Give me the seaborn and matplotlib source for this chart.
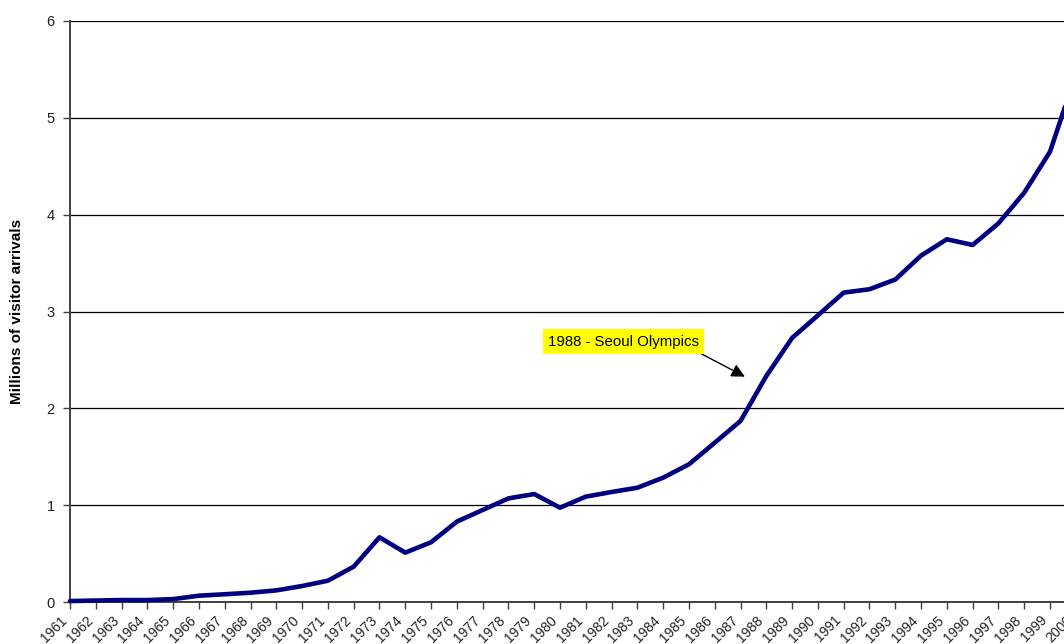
import matplotlib
matplotlib.use("Agg")
import matplotlib.pyplot as plt
import matplotlib.transforms as mtransforms
import seaborn as sns
import pandas as pd

years = list(range(1961, 2001))
arrivals = [0.01, 0.015, 0.02, 0.02, 0.03, 0.065, 0.08, 0.096, 0.12, 0.165,
            0.22, 0.365, 0.668, 0.51, 0.617, 0.83, 0.95, 1.07, 1.115, 0.974,
            1.088, 1.136, 1.18, 1.284, 1.422, 1.645, 1.87, 2.334, 2.727, 2.96,
            3.195, 3.23, 3.33, 3.577, 3.746, 3.687, 3.91, 4.227, 4.65, 5.45]
year_labels = [str(y) for y in years]
y_ticks = [0, 1, 2, 3, 4, 5, 6]
ylabel = "Millions of visitor arrivals"
note_text = "1988 - Seoul Olympics"

df = pd.DataFrame({"year": years, "arrivals": arrivals})

sns.set_theme(style="white")
plt.rcParams['font.family'] = ['Liberation Sans', 'DejaVu Sans']

W, H = 1064, 644
fig = plt.figure(figsize=(W / 100, H / 100), dpi=100)
ax = fig.add_axes([70 / W, (H - 602) / H, (1075.8 - 70) / W, (602 - 21) / H])

ax.set_axisbelow(True)
ax.yaxis.grid(True, color="black", lw=0.9)
ax.xaxis.grid(False)

sns.lineplot(data=df, x="year", y="arrivals", ax=ax, color="#000080",
             linewidth=3.3, clip_on=False, zorder=3)

for s in ["top", "right"]:
    ax.spines[s].set_visible(False)
for s in ["left", "bottom"]:
    ax.spines[s].set_color("#404040")
    ax.spines[s].set_linewidth(1.4)

ax.tick_params(axis="both", which="major", direction="out", length=5,
               width=1, color="#404040", left=True, bottom=True)
ax.tick_params(axis="x", pad=3)
ax.tick_params(axis="y", pad=6)

ax.set_xlim(1961, 2000)
ax.set_ylim(0, 6)
ax.set_yticks(y_ticks)
ax.set_yticklabels([str(v) for v in y_ticks], fontsize=10.5, color="#222222")
ax.set_xticks(years)
ax.set_xticklabels(year_labels, rotation=45, ha="right", va="top",
                   rotation_mode="anchor", fontsize=10, color="#222222")
shift = mtransforms.ScaledTranslation(-10 / 100, 0, fig.dpi_scale_trans)
for lab in ax.xaxis.get_majorticklabels():
    lab.set_transform(lab.get_transform() + shift)

ax.set_xlabel("")
ax.set_ylabel(ylabel, fontsize=11, fontweight="bold", color="black")
ax.yaxis.set_label_coords((24 - 70) / (1075.8 - 70), 0.5)

ax.annotate(note_text, xy=(1987.17, 2.327), xytext=(1982.47, 2.688),
            ha="center", va="center", fontsize=10.8, color="black",
            bbox=dict(boxstyle="square,pad=0.35", fc="#FFFF00", ec="none"),
            arrowprops=dict(arrowstyle="-|>", color="black", lw=1,
                            mutation_scale=20, relpos=(0.95, 0),
                            shrinkA=0, shrinkB=0),
            zorder=5)

fig.savefig("out.png", dpi=100)
